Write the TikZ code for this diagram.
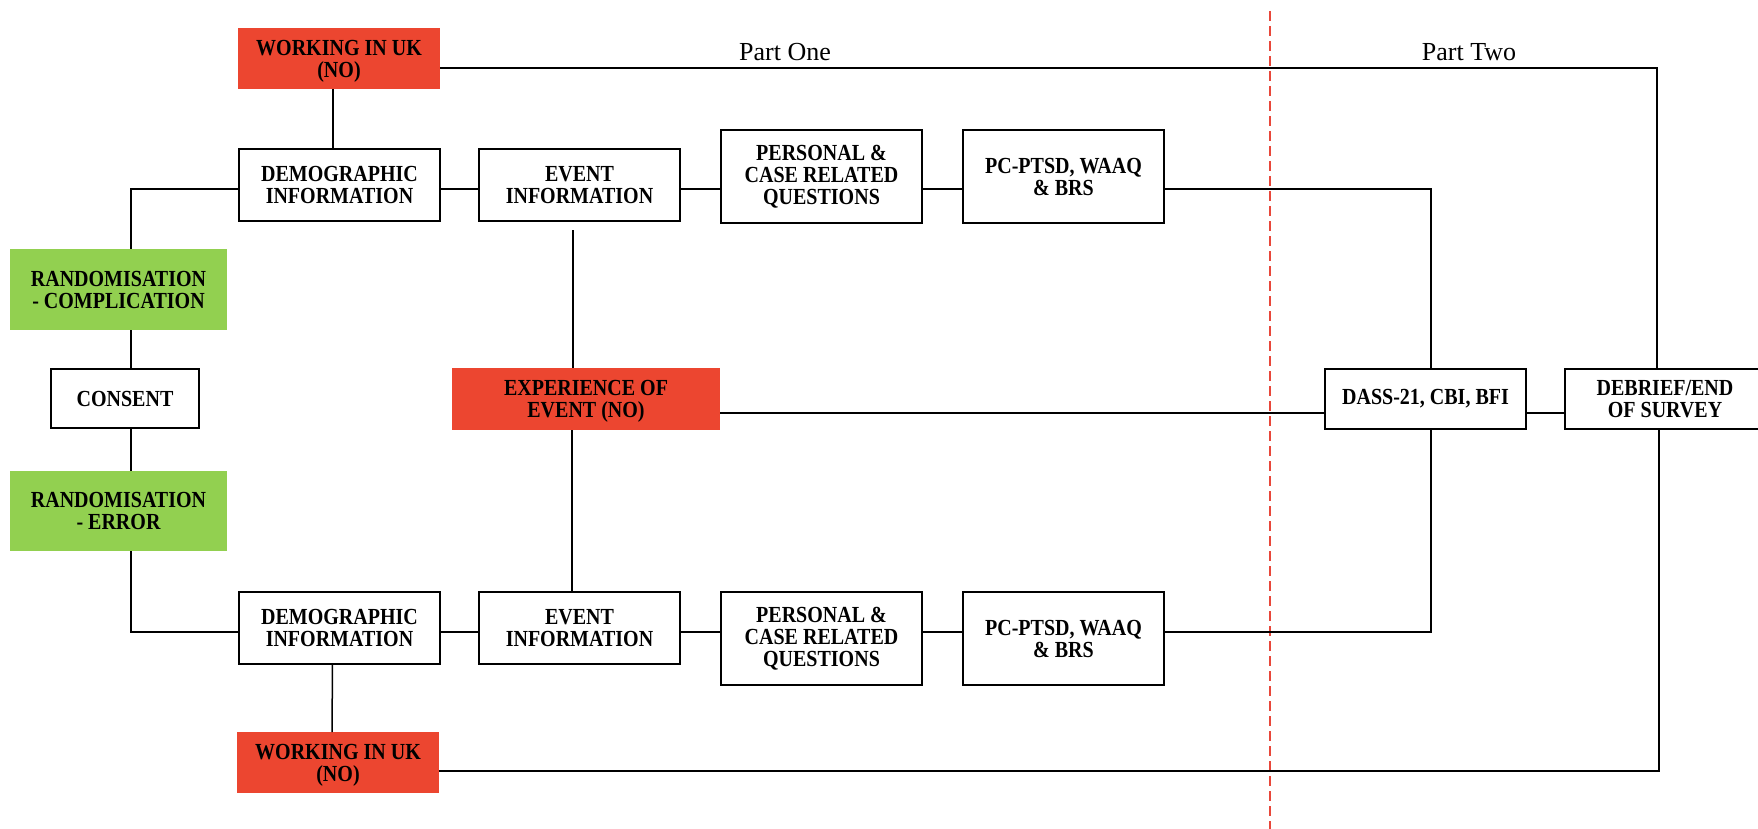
\documentclass[tikz,border=0pt]{standalone}
\usepackage{fontspec}
\setmainfont{Liberation Serif}
\newfontfamily\boxfont[FakeStretch=0.87]{Liberation Serif}
\definecolor{boxred}{HTML}{EC4630}
\definecolor{boxgreen}{HTML}{92D050}
\definecolor{dashred}{HTML}{E8473A}
\begin{document}
\begin{tikzpicture}[x=1pt,y=-1pt,
  base/.style={align=center, inner sep=0pt, outer sep=0pt,
    font=\boxfont\bfseries\fontsize{23}{22}\selectfont},
  wbox/.style={base, draw=black, line width=1.8pt, fill=white},
  rbox/.style={base, fill=boxred, text depth=0pt},
  gbox/.style={base, fill=boxgreen},
  conn/.style={draw=black, line width=1.5pt},
  partlabel/.style={font=\fontsize{26}{28}\selectfont, inner sep=0pt},
  divider/.style={draw=dashred, line width=1.2pt, dash pattern=on 10pt off 5pt}]
\useasboundingbox (0,0) rectangle (1758,829);

% top branch
\node[rbox, minimum width=202, minimum height=61] (wuk1) at (339,58.5) {WORKING IN UK\\(NO)};
\node[wbox, minimum width=201, minimum height=72] (demo1) at (339.5,185) {DEMOGRAPHIC\\INFORMATION};
\node[wbox, minimum width=201, minimum height=72] (event1) at (579.5,185) {EVENT\\INFORMATION};
\node[wbox, minimum width=201, minimum height=93] (pers1) at (821.5,176.5) {PERSONAL \&\\CASE RELATED\\QUESTIONS};
\node[wbox, minimum width=201, minimum height=93] (pc1) at (1063.5,176.5) {PC-PTSD, WAAQ\\\& BRS};

% left column
\node[gbox, minimum width=217, minimum height=81] (randc) at (118.5,289.5) {RANDOMISATION\\- COMPLICATION};
\node[wbox, minimum width=148, minimum height=59] (consent) at (125,398.5) {CONSENT};
\node[gbox, minimum width=217, minimum height=80] (rande) at (118.5,511) {RANDOMISATION\\- ERROR};

% middle
\node[rbox, minimum width=268, minimum height=62] (exp) at (586,399) {EXPERIENCE OF\\EVENT (NO)};
\node[wbox, minimum width=201, minimum height=60] (dass) at (1425.5,399) {DASS-21, CBI, BFI};
\node[wbox, minimum width=200, minimum height=60] (debrief) at (1665,399) {DEBRIEF/END\\OF SURVEY};

% bottom branch
\node[wbox, minimum width=201, minimum height=72] (demo2) at (339.5,628) {DEMOGRAPHIC\\INFORMATION};
\node[wbox, minimum width=201, minimum height=72] (event2) at (579.5,628) {EVENT\\INFORMATION};
\node[wbox, minimum width=201, minimum height=93] (pers2) at (821.5,638.5) {PERSONAL \&\\CASE RELATED\\QUESTIONS};
\node[wbox, minimum width=201, minimum height=93] (pc2) at (1063.5,638.5) {PC-PTSD, WAAQ\\\& BRS};
\node[rbox, minimum width=202, minimum height=61] (wuk2) at (338,762.5) {WORKING IN UK\\(NO)};

% labels
\node[partlabel] (p1) at (785,52) {Part One};
\node[partlabel] (p2) at (1469,52) {Part Two};

% divider
\draw[divider] (1270,11) -- (1270,829);

% connectors top
\draw[conn] ([xshift=-6pt]wuk1.south) -- ([xshift=-6.5pt]demo1.north);
\draw[conn] ([yshift=-9.5pt]wuk1.east) -| ([xshift=-8pt]debrief.north);
\draw[conn] ([yshift=-4pt]demo1.west) -| ([xshift=12.5pt]randc.north);
\draw[conn] ([yshift=-4pt]demo1.east) -- ([yshift=-4pt]event1.west);
\draw[conn] ([yshift=-4pt]event1.east) -- ([yshift=-12.5pt]pers1.west);
\draw[conn] ([yshift=-12.5pt]pers1.east) -- ([yshift=-12.5pt]pc1.west);
\draw[conn] ([yshift=-12.5pt]pc1.east) -| ([xshift=5.5pt]dass.north);

% left column
\draw[conn] ([xshift=12.5pt]randc.south) -- ([xshift=6pt]consent.north);
\draw[conn] ([xshift=6pt]consent.south) -- ([xshift=12.5pt]rande.north);
\draw[conn] ([xshift=12.5pt]rande.south) |- ([yshift=-4pt]demo2.west);

% middle
\draw[conn] ([xshift=-6.5pt,yshift=-9pt]event1.south) -- ([xshift=-13pt]exp.north);
\draw[conn] ([xshift=-14pt]exp.south) -- ([xshift=-7.5pt]event2.north);
\draw[conn] ([yshift=-14pt]exp.east) -- ([yshift=-14pt]dass.west);
\draw[conn] ([yshift=-14pt]dass.east) -- ([yshift=-14pt]debrief.west);

% bottom
\draw[conn] ([yshift=-4pt]demo2.east) -- ([yshift=-4pt]event2.west);
\draw[conn] ([yshift=-4pt]event2.east) -- ([yshift=6.5pt]pers2.west);
\draw[conn] ([yshift=6.5pt]pers2.east) -- ([yshift=6.5pt]pc2.west);
\draw[conn] ([yshift=6.5pt]pc2.east) -| ([xshift=5.5pt]dass.south);
\draw[conn] ([xshift=-7pt]demo2.south) -- ([xshift=-6pt]wuk2.north);
\draw[conn] ([yshift=-8.5pt]wuk2.east) -| ([xshift=-6pt]debrief.south);
\end{tikzpicture}
\end{document}
